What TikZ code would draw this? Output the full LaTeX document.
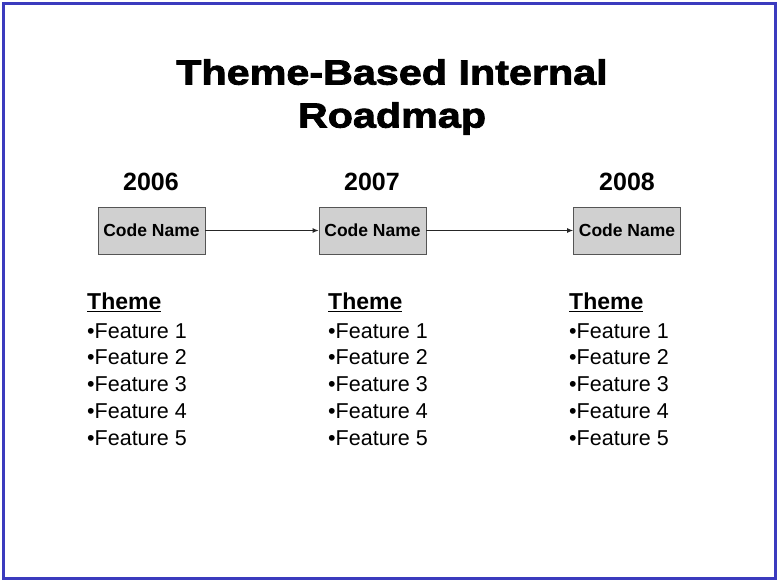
\documentclass[tikz,border=0pt]{standalone}
\usepackage{fontspec}
\setmainfont{Liberation Sans}
\newfontfamily\heavytitle{Liberation Sans Bold}[FakeBold=2.4,FakeStretch=1.18]
\usetikzlibrary{arrows.meta}
\definecolor{frameblue}{HTML}{3B3BBE}
\definecolor{boxgray}{HTML}{D0D0D0}
\definecolor{boxline}{HTML}{555555}
\begin{document}
\begin{tikzpicture}[x=1pt,y=-1pt,
  codebox/.style={draw=boxline,fill=boxgray,line width=0.8pt,minimum width=107pt,minimum height=47pt,inner sep=0pt,font=\bfseries\fontsize{17.5}{19}\selectfont},
  yearlbl/.style={font=\bfseries\fontsize{25}{28}\selectfont},
  themehd/.style={anchor=west,inner sep=0pt,font=\bfseries\fontsize{23}{26}\selectfont},
  featlbl/.style={anchor=west,inner sep=0pt,font=\fontsize{21.5}{24}\selectfont},
  conn/.style={draw=black!85,line width=0.9pt,-{Latex[length=6pt,width=5pt]}}
]
\useasboundingbox (0,0) rectangle (779,582);
\draw[frameblue,line width=3pt] (3.5,3.5) rectangle (775.5,578.5);
\node[font=\heavytitle\fontsize{35}{43}\selectfont,align=center] (title) at (392,97) {Theme-Based Internal\\Roadmap};
\node[yearlbl] (y1) at (151,182) {2006};
\node[yearlbl] (y2) at (372,182) {2007};
\node[yearlbl] (y3) at (627,182) {2008};
\node[codebox] (b1) at (151.5,230.5) {Code Name};
\node[codebox] (b2) at (372.5,230.5) {Code Name};
\node[codebox] (b3) at (627,230.5) {Code Name};
\draw[conn] (b1.east) -- (b2.west);
\draw[conn] (b2.east) -- (b3.west);
\foreach \c/\x in {a/87,b/328,c/569}{
  \node[themehd] (th\c) at (\x,302) {\underline{Theme}};
  \node[featlbl] (f\c1) at (\x,331) {•Feature 1};
  \node[featlbl] (f\c2) at (\x,357.5) {•Feature 2};
  \node[featlbl] (f\c3) at (\x,384.5) {•Feature 3};
  \node[featlbl] (f\c4) at (\x,411.5) {•Feature 4};
  \node[featlbl] (f\c5) at (\x,438) {•Feature 5};
}
\end{tikzpicture}
\end{document}
